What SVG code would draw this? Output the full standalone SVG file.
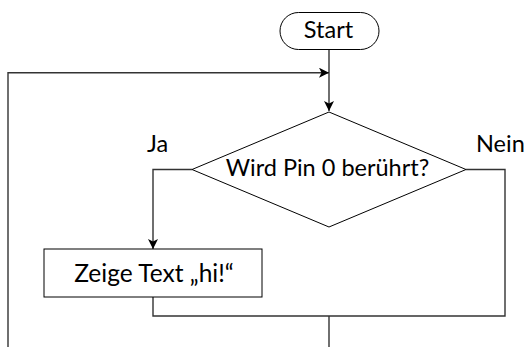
<svg xmlns="http://www.w3.org/2000/svg" width="528" height="347" viewBox="0 0 528 347">
<style>
text{font-family:Lato,"Open Sans","Liberation Sans",sans-serif;font-size:23.5px;fill:#000}
.big{font-size:24.5px}
.n{fill:#fff;stroke:#000;stroke-width:1}
.c{fill:none;stroke:#333;stroke-width:1.4}
</style>
<defs>
<marker id="ah" viewBox="0 0 10 10" refX="10" refY="5" markerWidth="10" markerHeight="10" markerUnits="userSpaceOnUse" orient="auto">
<path d="M0,0 L10,5 L0,10 L2.5,5 Z" fill="#000"/>
</marker>
</defs>
<g id="connectors">
<path class="c" d="M329,50 V111" marker-end="url(#ah)"/>
<path class="c" d="M8,347 V72.7 H329" marker-end="url(#ah)"/>
<path class="c" d="M192,169.5 H153 V249" marker-end="url(#ah)"/>
<path class="c" d="M466,169.5 H505 V316 H153 V297"/>
<path class="c" d="M329,316 V347"/>
</g>
<g id="start">
<rect class="n" x="280" y="12.5" width="99" height="37" rx="18.5"/>
<text x="328.5" y="37.7" text-anchor="middle">Start</text>
</g>
<g id="decision">
<polygon class="n" points="329,112 466,169.5 329,227 192,169.5"/>
<text x="327.5" y="176" text-anchor="middle">Wird Pin 0 berührt?</text>
</g>
<g id="labels">
<text x="147" y="152">Ja</text>
<text x="476" y="151.7">Nein</text>
</g>
<g id="action">
<rect class="n" x="44" y="249" width="218" height="48"/>
<text class="big" x="154" y="281.7" text-anchor="middle">Zeige Text „hi!“</text>
</g>
</svg>
